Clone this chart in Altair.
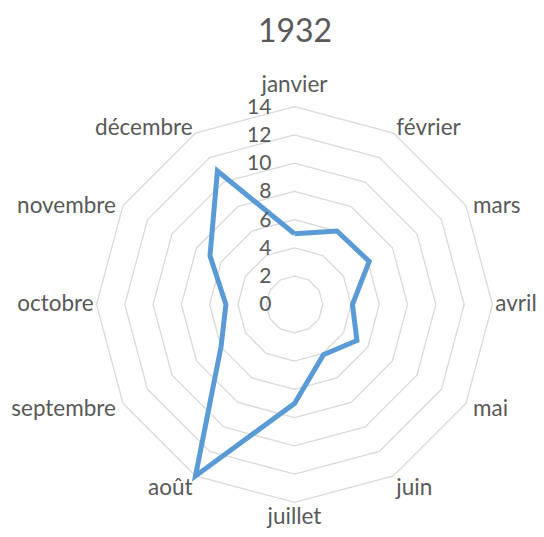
import altair as alt
import pandas as pd

# ---- data ----
title_text = "1932"
months = ["janvier", "février", "mars", "avril", "mai", "juin",
          "juillet", "août", "septembre", "octobre", "novembre", "décembre"]
values = [5.0, 6.0, 6.1, 4.1, 5.1, 4.1, 7.0, 14.0, 6.0, 4.85, 6.9, 10.9]
ticks = [0, 2, 4, 6, 8, 10, 12, 14]
rings = [2, 4, 6, 8, 10, 12, 14]
r_max = 14

n = len(months)
series = pd.DataFrame({"month": months + [months[0]],
                       "value": values + [values[0]],
                       "i": list(range(n + 1))})
grid = pd.DataFrame([{"ring": r, "i": i} for r in rings for i in range(n + 1)])
labels = pd.DataFrame({"month": months, "i": list(range(n))})
tick_df = pd.DataFrame({"tick": ticks})

TEXT = "#595959"
FONT = "Lato"

xs = alt.Scale(domain=[-20.26, 17.08], nice=False, zero=False)
ys = alt.Scale(domain=[-15.88, 18.14], nice=False, zero=False)
X = alt.X("x:Q", scale=xs, axis=None)
Y = alt.Y("y:Q", scale=ys, axis=None)

ang = "datum.i * PI / 6"

grid_layer = alt.Chart(grid).transform_calculate(
    a=ang
).transform_calculate(
    x="datum.ring * sin(datum.a)", y="datum.ring * cos(datum.a)"
).mark_line(color="#D9D9D9", strokeWidth=1.3).encode(
    x=X, y=Y, detail="ring:N", order="i:Q"
)

series_layer = alt.Chart(series).transform_calculate(
    a=ang
).transform_calculate(
    x="datum.value * sin(datum.a)", y="datum.value * cos(datum.a)"
).mark_line(color="#5B9BD5", strokeWidth=5, strokeJoin="miter").encode(
    x=X, y=Y, order="i:Q"
)

lab_base = alt.Chart(labels).transform_calculate(
    a=ang
).transform_calculate(
    s="sin(datum.a)", c="cos(datum.a)"
).transform_calculate(
    g="(abs(datum.c) > 0.3 && abs(datum.c) < 0.7) ? 0.5 : 0.2"
).transform_calculate(
    x=f"{r_max} * datum.s + (datum.s > 0.1 ? datum.g : (datum.s < -0.1 ? -datum.g : 0))",
    y=f"abs(datum.s) < 0.1 ? (datum.c > 0 ? 15.5 : 15.0) * datum.c : {r_max} * datum.c + "
      "(datum.c > 0.7 ? 0.35 : (datum.c < -0.7 ? -0.85 : (datum.c < -0.3 ? -0.42 : 0)))",
)

def lab(filt, align):
    return lab_base.transform_filter(filt).mark_text(
        align=align, baseline="middle", font=FONT, fontSize=22.5, color=TEXT
    ).encode(x=X, y=Y, text="month:N")

lab_c = lab("datum.i == 0 || datum.i == 6", "center")
lab_l = lab("datum.i >= 1 && datum.i <= 5", "left")
lab_r = lab("datum.i >= 7", "right")

tick_layer = alt.Chart(tick_df).transform_calculate(
    x="0", y="datum.tick"
).mark_text(align="right", baseline="middle", dx=-23, dy=1,
            font=FONT, fontSize=21, color=TEXT).encode(
    x=X, y=Y, text=alt.Text("tick:Q")
)

chart = alt.layer(grid_layer, series_layer, tick_layer, lab_c, lab_l, lab_r).properties(
    width=528, height=481,
    padding={"left": 0, "top": 40, "right": 0, "bottom": 0},
    autosize=alt.AutoSizeParams(type="none"),
    title=alt.Title(title_text, fontSize=32, font=FONT, color=TEXT,
                    fontWeight="normal", anchor="middle", dx=23, dy=32,
                    baseline="alphabetic", offset=6),
).configure_view(stroke=None)

chart.save("out.html", embed_options={"renderer": "svg", "actions": False})
